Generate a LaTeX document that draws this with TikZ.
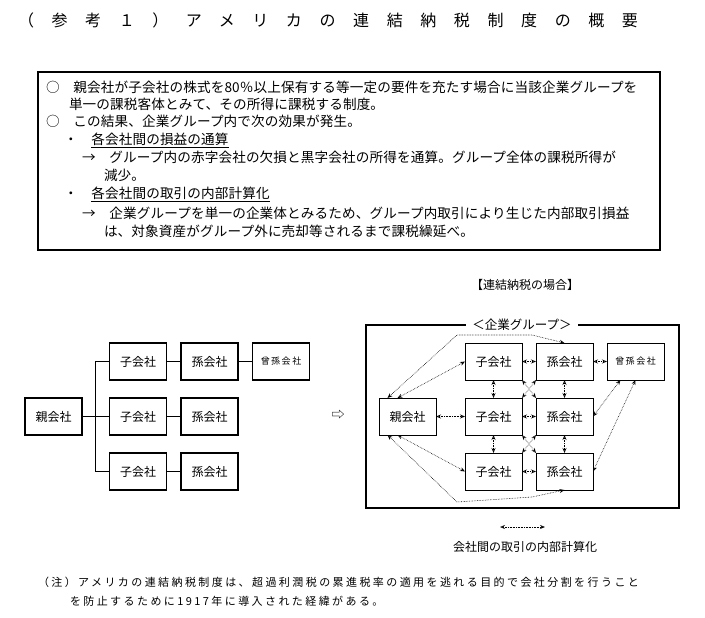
\documentclass[tikz,border=0pt]{standalone}
\usepackage{fontspec}
\setmainfont{Noto Sans CJK JP}
\usetikzlibrary{arrows.meta}

\begin{document}
\begin{tikzpicture}[x=1pt,y=-1pt,
  every node/.style={inner sep=0pt, outer sep=0pt},
  txt/.style={anchor=west, font=\fontsize{13.6}{15}\selectfont\addfontfeatures{LetterSpace=1}},
  co/.style={draw, line width=1.6pt, minimum width=57pt, minimum height=37pt, font=\fontsize{12}{14}\selectfont},
  cog/.style={draw, line width=0.6pt, minimum width=57pt, minimum height=37pt, font=\fontsize{12}{14}\selectfont},
  link/.style={densely dotted, line width=0.6pt, {Stealth[open,length=5pt,width=4pt]}-{Stealth[open,length=5pt,width=4pt]}},
  small/.style={font=\fontsize{8}{10}\selectfont}]
\useasboundingbox (0,0) rectangle (705,618);

% title
\node[anchor=west] (title) at (18,20) {\fontsize{16}{18}\selectfont\addfontfeatures{LetterSpace=110}（参考１）アメリカの連結納税制度の概要};

% summary box
\draw[line width=1.2pt] (38,72) rectangle (660,250);
\node[txt] (l1) at (46,87) {○　親会社が子会社の株式を80％以上保有する等一定の要件を充たす場合に当該企業グループを};
\node[txt] (l2) at (69,104) {単一の課税客体とみて、その所得に課税する制度。};
\node[txt] (l3) at (46,121) {○　この結果、企業グループ内で次の効果が発生。};
\node[txt] (l4) at (64,140) {・　\underline{各会社間の損益の通算}};
\node[txt] (l5) at (82,157) {→　グループ内の赤字会社の欠損と黒字会社の所得を通算。グループ全体の課税所得が};
\node[txt] (l6) at (104,175) {減少。};
\node[txt] (l7) at (64,194) {・　\underline{各会社間の取引の内部計算化}};
\node[txt] (l8) at (82,213) {→　企業グループを単一の企業体とみるため、グループ内取引により生じた内部取引損益};
\node[txt] (l9) at (104,231) {は、対象資産がグループ外に売却等されるまで課税繰延べ。};

% left: group chart
\node[co] (lp) at (53.5,416.5) {親会社};
\foreach \r/\y in {1/361.5,2/416.5,3/471.5}{
  \node[co] (lc\r) at (138,\y) {子会社};
  \node[co] (lm\r) at (209.5,\y) {孫会社};
  \draw[line width=0.8pt] (lc\r) -- (lm\r);
}
\node[co] (lg) at (281,361.5) {\small 曾\,孫\,会\,社};
\draw[line width=0.8pt] (lm1) -- (lg);
\draw[line width=0.8pt] (lp.east) -- ++(14,0);
\draw[line width=0.8pt] (lc1.west) -- ++(-14,0) |- (lc3.west);
\draw[line width=0.8pt] (lc2.west) -- ++(-14,0);

\node (go) at (338,415) {\fontsize{13}{14}\selectfont ⇨};

% right: consolidated
\node (head) at (525,285) {\fontsize{12}{14}\selectfont【連結納税の場合】};
\draw[line width=1.6pt] (366,325) rectangle (679,508);
\node[fill=white, inner xsep=6pt] (grp) at (522,325) {\fontsize{12.5}{14}\selectfont ＜企業グループ＞};
\node[cog] (rp) at (407.5,416.5) {親会社};
\foreach \r/\y in {1/361.5,2/416.5,3/471.5}{
  \node[cog] (rc\r) at (493.5,\y) {子会社};
  \node[cog] (rm\r) at (564.5,\y) {孫会社};
  \draw[link] (rc\r) -- (rm\r);
}
\node[cog] (rg) at (635.5,361.5) {\small 曾\,孫\,会\,社};
\draw[link] (rm1) -- (rg);
\foreach \a/\b in {1/2,2/3}{
  \draw[link] (rc\a) -- (rc\b);
  \draw[link] (rm\a) -- (rm\b);
  \draw[link] (rc\a.south east) -- (rm\b.north west);
  \draw[link] (rm\a.south west) -- (rc\b.north east);
}
\draw[link] (rp) -- (rc2);
\draw[link] ([xshift=-10pt]rp.north) -- (rc1.west);
\draw[link] ([xshift=-10pt]rp.south) -- (rc3.west);
\coordinate (t1) at (457,335);
\coordinate (t2) at (532,335);
\coordinate (b1) at (457,502);
\coordinate (b2) at (532,497);
\draw[link] ([xshift=-20pt]rp.north) -- (t1) -- (t2) -- (rm1.north);
\draw[link] ([xshift=-20pt]rp.south) -- (b1) -- (b2) -- (rm3.south);
\draw[link] ([xshift=-15pt]rg.south) -- (rm2.east);
\draw[link] ([xshift=0pt]rg.south) -- (rm3.east);

% legend
\coordinate (k1) at (500,527);
\coordinate (k2) at (545,527);
\draw[link] (k1) -- (k2);
\node (key) at (525,547) {\fontsize{12}{14}\selectfont 会社間の取引の内部計算化};

% note
\node[txt, font=\fontsize{11}{13}\selectfont\addfontfeatures{LetterSpace=22}] (n1) at (38,582) {（注）アメリカの連結納税制度は、超過利潤税の累進税率の適用を逃れる目的で会社分割を行うこと};
\node[txt, font=\fontsize{11}{13}\selectfont\addfontfeatures{LetterSpace=22}] (n2) at (70,601) {を防止するために1917年に導入された経緯がある。};
\end{tikzpicture}
\end{document}
